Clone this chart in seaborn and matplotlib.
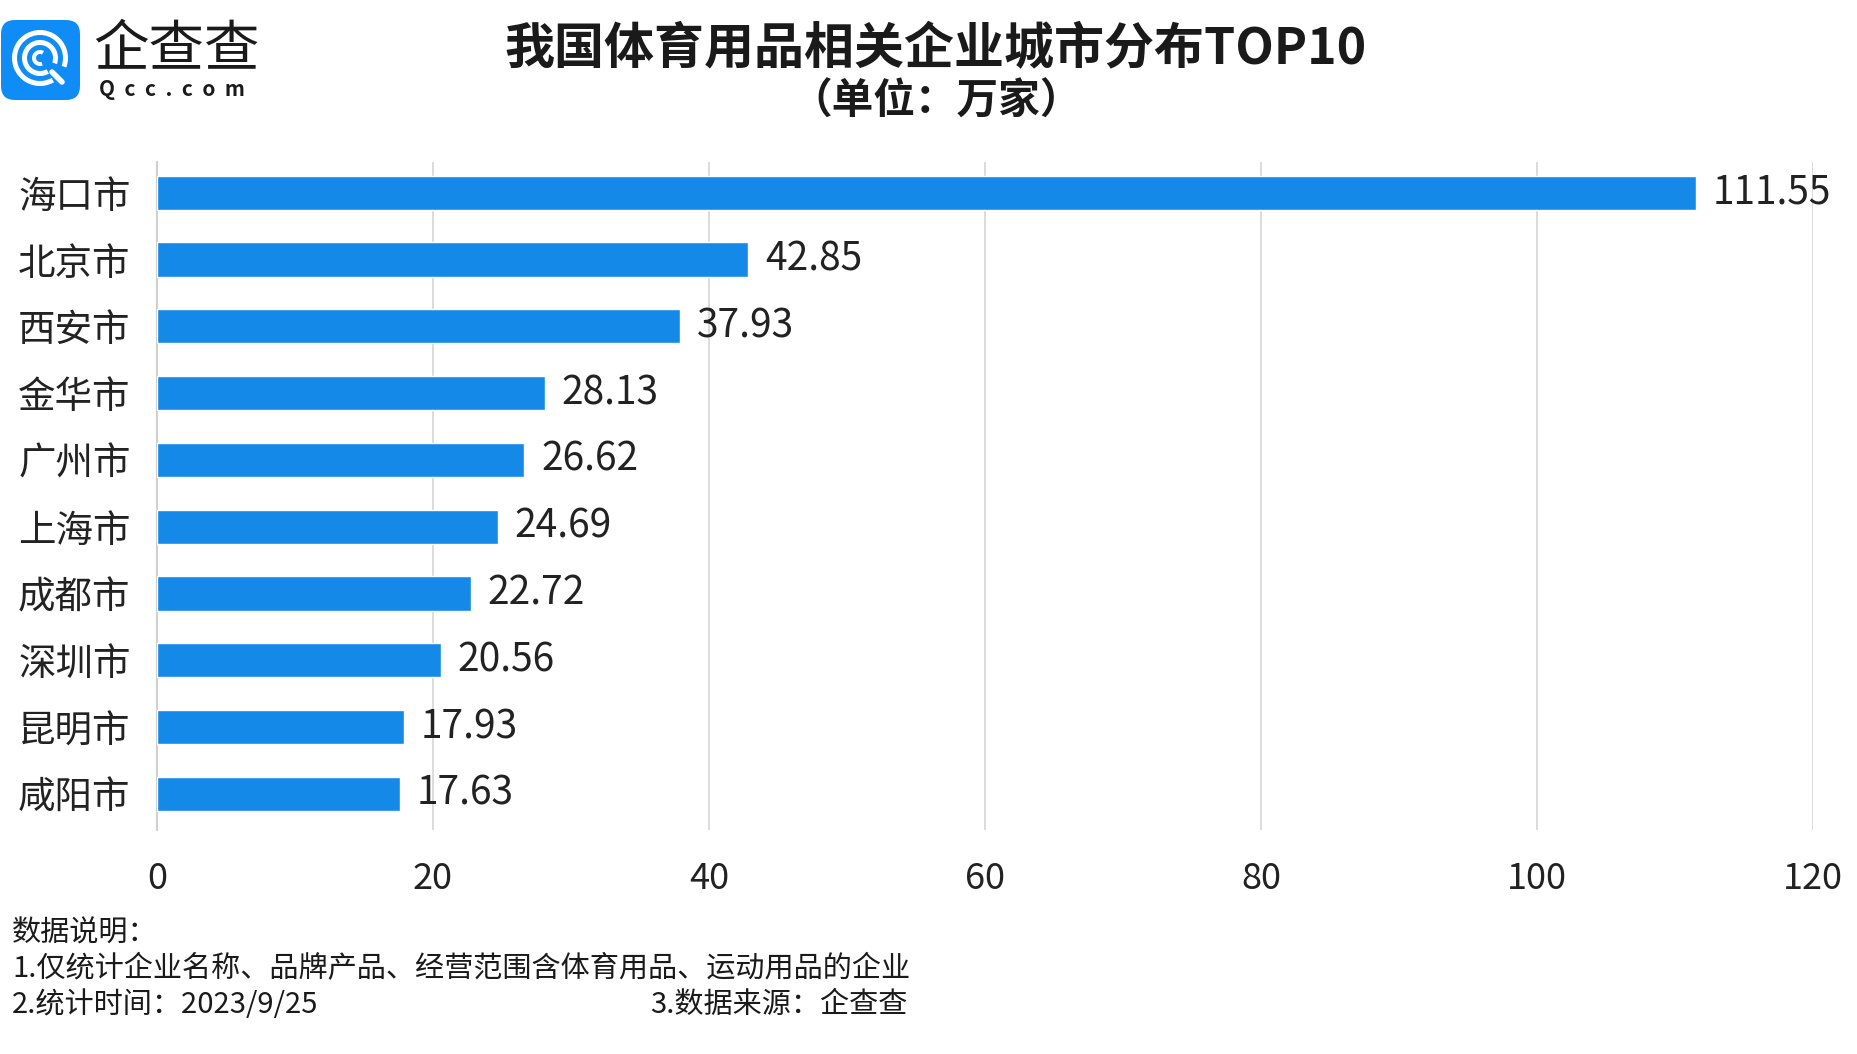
import matplotlib.pyplot as plt
import seaborn as sns
import pandas as pd
from matplotlib.patches import FancyBboxPatch, Wedge

cities = ["海口市", "北京市", "西安市", "金华市", "广州市", "上海市", "成都市", "深圳市", "昆明市", "咸阳市"]
counts = [111.55, 42.85, 37.93, 28.13, 26.62, 24.69, 22.72, 20.56, 17.93, 17.63]
x_ticks = [0, 20, 40, 60, 80, 100, 120]

title = "我国体育用品相关企业城市分布TOP10"
subtitle = "（单位：万家）"
notes = ["数据说明：", "1.仅统计企业名称、品牌产品、经营范围含体育用品、运动用品的企业", "2.统计时间：2023/9/25"]
source = "3.数据来源：企查查"

sns.set_theme(style="white")
plt.rcParams['font.family'] = ['Noto Sans CJK SC', 'DejaVu Sans']

df = pd.DataFrame({"city": cities, "count": counts})

W, H = 1858, 1054
fig = plt.figure(figsize=(W / 100, H / 100), dpi=100)
ax = fig.add_axes([157 / W, 1 - 830 / H, (1813 - 157) / W, (830 - 162) / H])

sns.barplot(data=df, x="count", y="city", color="#1589E8", width=0.51,
            saturation=1, ax=ax, zorder=3)

ax.set_xlim(0, 120)
ax.set_ylim(9.54, -0.46)
ax.set_xticks(x_ticks)
ax.set_xticklabels([str(t) for t in x_ticks], fontsize=26, color="#222222")
ax.tick_params(axis="x", length=0, pad=22)
ax.tick_params(axis="y", length=0, pad=19, labelsize=27, labelcolor="#222222")
for lbl in ax.get_yticklabels():
    lbl.set_fontweight("medium")
ax.set_xlabel("")
ax.set_ylabel("")
ax.grid(axis="x", color="#d9d9d9", linewidth=1.3, zorder=0)
for s in ["top", "right", "bottom"]:
    ax.spines[s].set_visible(False)
ax.spines["left"].set_color("#d0d0d0")
ax.spines["left"].set_linewidth(1.5)

for i, v in enumerate(counts):
    ax.text(v + 1.2, i, f"{v:.2f}", va="center", ha="left", fontsize=28, color="#222222")

# title
fig.text(936 / W, 1 - 50 / H, title, ha="center", va="center", fontsize=36,
         fontweight="bold", color="#1a1a1a")
fig.text(936 / W, 1 - 102 / H, subtitle, ha="center", va="center", fontsize=30,
         fontweight="bold", color="#1a1a1a")

# logo
lax = fig.add_axes([0, 1 - 105 / H, 105 / W, 105 / H])
lax.set_xlim(0, 105)
lax.set_ylim(105, 0)
lax.axis("off")
lax.add_patch(FancyBboxPatch((1, 20), 79, 80, boxstyle="round,pad=0,rounding_size=14",
                             facecolor="#0f8cf5", edgecolor="none"))
lax.add_patch(Wedge((40, 58), 28, 60, 20, width=5, facecolor="white", edgecolor="none"))
lax.add_patch(Wedge((40, 58), 18, 60, 20, width=5, facecolor="white", edgecolor="none"))
lax.add_patch(Wedge((40, 58), 8, 70, 300, width=4, facecolor="white", edgecolor="none"))
lax.plot([52, 62], [72, 82], color="white", lw=4, solid_capstyle="round")
fig.text(93 / W, 1 - 50 / H, "企查查", ha="left", va="center", fontsize=40,
         color="#1a1a1a")
fig.text(99 / W, 1 - 89 / H, "Q  c  c  .  c  o  m", ha="left", va="center", fontsize=15,
         color="#1a1a1a", fontweight="bold")

# notes
ys = [934, 969, 1005]
for y, t in zip(ys, notes):
    fig.text(12 / W, 1 - y / H, t, ha="left", va="center", fontsize=21, color="#1a1a1a")
fig.text(650 / W, 1 - 1005 / H, source, ha="left", va="center", fontsize=21, color="#1a1a1a")

fig.savefig("out.png", dpi=100, facecolor="white")
